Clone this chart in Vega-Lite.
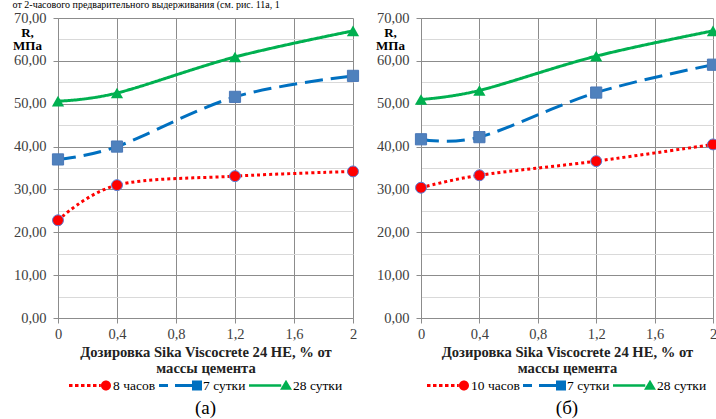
{
  "$schema": "https://vega.github.io/schema/vega-lite/v6.json",
  "background": "white",
  "padding": {"left": 12, "top": 0, "right": 0, "bottom": 0},
  "title": {"text": "от 2-часового предварительного выдерживания (см. рис. 11а, 1", "anchor": "start", "fontSize": 10, "fontWeight": "normal", "color": "#000", "offset": 0},
  "datasets": {
    "a": [
      {"x": 0, "y": 22.8, "s": "8 часов"}, {"x": 0.4, "y": 31.0, "s": "8 часов"}, {"x": 1.2, "y": 33.1, "s": "8 часов"}, {"x": 2, "y": 34.2, "s": "8 часов"},
      {"x": 0, "y": 37.0, "s": "7 сутки"}, {"x": 0.4, "y": 40.0, "s": "7 сутки"}, {"x": 1.2, "y": 51.6, "s": "7 сутки"}, {"x": 2, "y": 56.5, "s": "7 сутки"},
      {"x": 0, "y": 50.6, "s": "28 сутки"}, {"x": 0.4, "y": 52.5, "s": "28 сутки"}, {"x": 1.2, "y": 60.9, "s": "28 сутки"}, {"x": 2, "y": 67.0, "s": "28 сутки"}
    ],
    "b": [
      {"x": 0, "y": 30.4, "s": "10 часов"}, {"x": 0.4, "y": 33.3, "s": "10 часов"}, {"x": 1.2, "y": 36.6, "s": "10 часов"}, {"x": 2, "y": 40.5, "s": "10 часов"},
      {"x": 0, "y": 41.7, "s": "7 сутки"}, {"x": 0.4, "y": 42.2, "s": "7 сутки"}, {"x": 1.2, "y": 52.6, "s": "7 сутки"}, {"x": 2, "y": 59.1, "s": "7 сутки"},
      {"x": 0, "y": 51.0, "s": "28 сутки"}, {"x": 0.4, "y": 53.1, "s": "28 сутки"}, {"x": 1.2, "y": 61.1, "s": "28 сутки"}, {"x": 2, "y": 67.0, "s": "28 сутки"}
    ]
  },
  "spacing": 14,
  "resolve": {
    "scale": {"x": "independent", "y": "independent", "color": "independent", "shape": "independent", "stroke": "independent", "strokeDash": "independent"},
    "legend": {"color": "independent", "shape": "independent"}
  },
  "hconcat": [
    {
      "width": 295, "height": 300,
      "data": {"name": "a"},
      "title": {"text": "(а)", "orient": "bottom", "anchor": "middle", "fontSize": 19, "fontWeight": "normal", "color": "#000", "offset": 7},
      "encoding": {
        "x": {"field": "x", "type": "quantitative", "scale": {"domain": [0, 2], "nice": false},
          "axis": {"values": [0, 0.4, 0.8, 1.2, 1.6, 2], "labelExpr": "replace(format(datum.value, '.1~f'), '.', ',')", "labelFlush": false, "labelFontSize": 14.5, "labelColor": "#404040", "labelPadding": 4, "tickSize": 5, "tickColor": "#8c8c8c", "domainColor": "#8c8c8c", "grid": true, "gridColor": "#8c8c8c", "title": ["Дозировка Sika Viscocrete 24 НЕ, % от", "массы цемента"], "titleFontSize": 14.6, "titleFontWeight": "bold", "titleColor": "#222", "titlePadding": 4, "titleLineHeight": 15.5}},
        "y": {"field": "y", "type": "quantitative", "scale": {"domain": [0, 70], "nice": false},
          "axis": {"values": [0, 5, 10, 15, 20, 25, 30, 35, 40, 45, 50, 55, 60, 65, 70], "labelExpr": "datum.value % 10 === 0 ? replace(format(datum.value, '.2f'), '.', ',') : ''", "labelFontSize": 14.5, "labelColor": "#404040", "labelPadding": 7, "tickSize": 5, "tickColor": "#8c8c8c", "tickOpacity": {"condition": {"test": "datum.value % 10 === 0", "value": 1}, "value": 0}, "domainColor": "#8c8c8c", "grid": true, "gridColor": {"condition": {"test": "datum.value % 10 === 0", "value": "#8c8c8c"}, "value": "#d9d9d9"}, "title": ["R,", "МПа"], "titleAngle": 0, "titleAlign": "center", "titleBaseline": "alphabetic", "titleX": -31, "titleY": 18, "titleFontSize": 13, "titleFontWeight": "bold", "titleLineHeight": 13.5, "titleColor": "#000"}}
      },
      "layer": [
        {"mark": {"type": "line", "interpolate": "cardinal", "strokeWidth": 3},
         "encoding": {
           "stroke": {"field": "s", "type": "nominal", "scale": {"domain": ["28 сутки", "7 сутки", "8 часов"], "range": ["#00b050", "#0070c0", "#ff0000"]}, "legend": null},
           "strokeDash": {"field": "s", "type": "nominal", "scale": {"domain": ["7 сутки", "28 сутки", "8 часов"], "range": [[18, 8], [1, 0], [3, 3]]}, "legend": null}
         }},
        {"transform": [{"filter": {"field": "s", "equal": "8 часов"}}], "mark": {"type": "point", "shape": "circle", "filled": true, "fill": "#ff0000", "stroke": "#5b7fd6", "strokeWidth": 1, "size": 120, "opacity": 1}},
        {"transform": [{"filter": {"field": "s", "equal": "7 сутки"}}], "mark": {"type": "point", "shape": "square", "filled": true, "fill": "#4f81bd", "stroke": "#4a78b8", "strokeWidth": 1, "size": 125, "opacity": 1}},
        {"transform": [{"filter": {"field": "s", "equal": "28 сутки"}}], "mark": {"type": "point", "shape": "triangle-up", "filled": true, "fill": "#00b050", "size": 150, "opacity": 1}},
        {"transform": [{"filter": "datum.x < 0"}], "mark": {"type": "point", "filled": true, "opacity": 1},
         "encoding": {
           "color": {"field": "s", "type": "nominal", "scale": {"domain": ["8 часов", "7 сутки", "28 сутки"], "range": ["#ff0000", "#0070c0", "#00b050"]},
             "legend": {"orient": "bottom", "direction": "horizontal", "title": null, "offset": -11, "padding": 0, "columnPadding": 3, "labelOffset": 1, "symbolSize": 1849, "symbolStrokeWidth": 0, "labelFontSize": 13.5, "labelColor": "#000"}},
           "shape": {"field": "s", "type": "nominal", "scale": {"domain": ["8 часов", "7 сутки", "28 сутки"], "range": [
             "M-1,-0.074H-0.837V0.074H-1Z M-0.721,-0.074H-0.558V0.074H-0.721Z M-0.442,-0.074H-0.279V0.074H-0.442Z M-0.163,-0.074H0V0.074H-0.163Z M0.116,-0.074H0.279V0.074H0.116Z M0.395,-0.074H0.48V0.074H0.395Z M0.953,0A0.233,0.233 0 1,1 0.487,0A0.233,0.233 0 1,1 0.953,0Z",
             "M-1,-0.07H-0.581V0.07H-1Z M-0.256,-0.07H0.55V0.07H-0.256Z M0.535,-0.233H1V0.233H0.535Z",
             "M-1,-0.06H0.5V0.06H-1Z M0.721,-0.27L1,0.2L0.442,0.2Z"]},
             "legend": {"orient": "bottom", "direction": "horizontal", "title": null, "offset": -11, "padding": 0, "columnPadding": 3, "labelOffset": 1, "symbolSize": 1849, "symbolStrokeWidth": 0, "labelFontSize": 13.5, "labelColor": "#000"}}
         }}
      ]
    },
    {
      "width": 292, "height": 300,
      "data": {"name": "b"},
      "title": {"text": "(б)", "orient": "bottom", "anchor": "middle", "fontSize": 19, "fontWeight": "normal", "color": "#000", "offset": 7},
      "encoding": {
        "x": {"field": "x", "type": "quantitative", "scale": {"domain": [0, 2], "nice": false},
          "axis": {"values": [0, 0.4, 0.8, 1.2, 1.6, 2], "labelExpr": "replace(format(datum.value, '.1~f'), '.', ',')", "labelFlush": false, "labelFontSize": 14.5, "labelColor": "#404040", "labelPadding": 4, "tickSize": 5, "tickColor": "#8c8c8c", "domainColor": "#8c8c8c", "grid": true, "gridColor": "#8c8c8c", "title": ["Дозировка Sika Viscocrete 24 НЕ, % от", "массы цемента"], "titleFontSize": 14.6, "titleFontWeight": "bold", "titleColor": "#222", "titlePadding": 4, "titleLineHeight": 15.5}},
        "y": {"field": "y", "type": "quantitative", "scale": {"domain": [0, 70], "nice": false},
          "axis": {"values": [0, 5, 10, 15, 20, 25, 30, 35, 40, 45, 50, 55, 60, 65, 70], "labelExpr": "datum.value % 10 === 0 ? replace(format(datum.value, '.2f'), '.', ',') : ''", "labelFontSize": 14.5, "labelColor": "#404040", "labelPadding": 7, "tickSize": 5, "tickColor": "#8c8c8c", "tickOpacity": {"condition": {"test": "datum.value % 10 === 0", "value": 1}, "value": 0}, "domainColor": "#8c8c8c", "grid": true, "gridColor": {"condition": {"test": "datum.value % 10 === 0", "value": "#8c8c8c"}, "value": "#d9d9d9"}, "title": ["R,", "МПа"], "titleAngle": 0, "titleAlign": "center", "titleBaseline": "alphabetic", "titleX": -31, "titleY": 18, "titleFontSize": 13, "titleFontWeight": "bold", "titleLineHeight": 13.5, "titleColor": "#000"}}
      },
      "layer": [
        {"mark": {"type": "line", "interpolate": "cardinal", "strokeWidth": 3},
         "encoding": {
           "stroke": {"field": "s", "type": "nominal", "scale": {"domain": ["28 сутки", "7 сутки", "10 часов"], "range": ["#00b050", "#0070c0", "#ff0000"]}, "legend": null},
           "strokeDash": {"field": "s", "type": "nominal", "scale": {"domain": ["7 сутки", "28 сутки", "10 часов"], "range": [[18, 8], [1, 0], [3, 3]]}, "legend": null}
         }},
        {"transform": [{"filter": {"field": "s", "equal": "10 часов"}}], "mark": {"type": "point", "shape": "circle", "filled": true, "fill": "#ff0000", "stroke": "#5b7fd6", "strokeWidth": 1, "size": 120, "opacity": 1}},
        {"transform": [{"filter": {"field": "s", "equal": "7 сутки"}}], "mark": {"type": "point", "shape": "square", "filled": true, "fill": "#4f81bd", "stroke": "#4a78b8", "strokeWidth": 1, "size": 125, "opacity": 1}},
        {"transform": [{"filter": {"field": "s", "equal": "28 сутки"}}], "mark": {"type": "point", "shape": "triangle-up", "filled": true, "fill": "#00b050", "size": 150, "opacity": 1}},
        {"transform": [{"filter": "datum.x < 0"}], "mark": {"type": "point", "filled": true, "opacity": 1},
         "encoding": {
           "color": {"field": "s", "type": "nominal", "scale": {"domain": ["10 часов", "7 сутки", "28 сутки"], "range": ["#ff0000", "#0070c0", "#00b050"]},
             "legend": {"orient": "bottom", "direction": "horizontal", "title": null, "offset": -11, "padding": 0, "columnPadding": 3, "labelOffset": 1, "symbolSize": 1849, "symbolStrokeWidth": 0, "labelFontSize": 13.5, "labelColor": "#000"}},
           "shape": {"field": "s", "type": "nominal", "scale": {"domain": ["10 часов", "7 сутки", "28 сутки"], "range": [
             "M-1,-0.074H-0.837V0.074H-1Z M-0.721,-0.074H-0.558V0.074H-0.721Z M-0.442,-0.074H-0.279V0.074H-0.442Z M-0.163,-0.074H0V0.074H-0.163Z M0.116,-0.074H0.279V0.074H0.116Z M0.395,-0.074H0.48V0.074H0.395Z M0.953,0A0.233,0.233 0 1,1 0.487,0A0.233,0.233 0 1,1 0.953,0Z",
             "M-1,-0.07H-0.581V0.07H-1Z M-0.256,-0.07H0.55V0.07H-0.256Z M0.535,-0.233H1V0.233H0.535Z",
             "M-1,-0.06H0.5V0.06H-1Z M0.721,-0.27L1,0.2L0.442,0.2Z"]},
             "legend": {"orient": "bottom", "direction": "horizontal", "title": null, "offset": -11, "padding": 0, "columnPadding": 3, "labelOffset": 1, "symbolSize": 1849, "symbolStrokeWidth": 0, "labelFontSize": 13.5, "labelColor": "#000"}}
         }}
      ]
    }
  ],
  "config": {
    "font": "Liberation Serif",
    "view": {"stroke": null},
    "legend": {"layout": {"bottom": {"anchor": "middle"}}}
  }
}
